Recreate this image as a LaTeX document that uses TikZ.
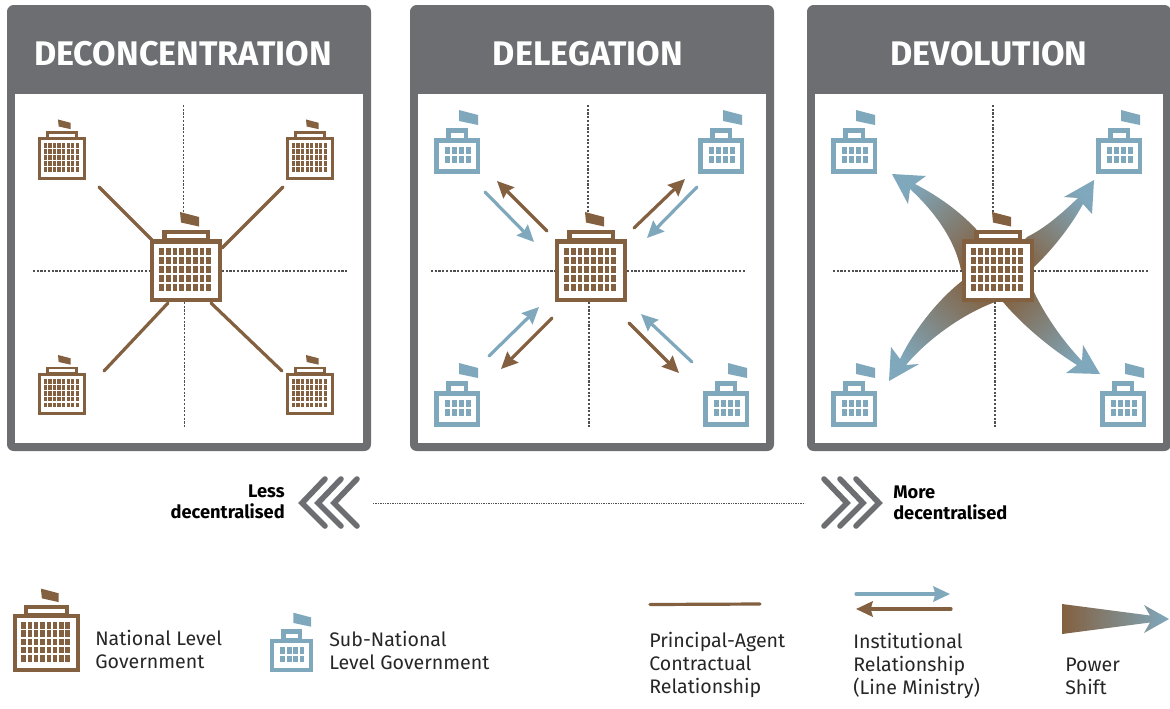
\documentclass[tikz,border=0pt]{standalone}
\usepackage{fontspec}
\setmainfont{Fira Sans}
\usetikzlibrary{arrows,arrows.meta,calc,positioning}
\definecolor{natbrown}{HTML}{83603F}
\definecolor{subblue}{HTML}{7FA8BD}
\definecolor{framegray}{HTML}{6D6E71}
\definecolor{dotgray}{HTML}{505052}
\tikzstyle{dotline} = [dotgray,line width=1.3pt,dash pattern=on 1.6pt off 1.2pt]
\tikzstyle{contract} = [natbrown,line width=2.4pt,line cap=round]
\tikzstyle{brownarrow} = [natbrown,line width=2.4pt,line cap=round,-{Stealth[length=12.5pt,width=11.5pt,inset=1.5pt]}]
\tikzstyle{bluearrow} = [subblue,line width=2.4pt,line cap=round,-{Stealth[length=12.5pt,width=11.5pt,inset=1.5pt]}]
\tikzstyle{chevron} = [framegray,line width=4.2pt,line cap=round,line join=miter]
\tikzstyle{titletext} = [text=white,font=\fontsize{25.6}{30}\selectfont\bfseries]
\tikzstyle{sidetext} = [inner sep=0pt,align=left,font=\fontsize{13.7}{15.8}\selectfont\bfseries]
\tikzstyle{legendtext} = [inner sep=0pt,align=left,anchor=north west,font=\fontsize{14.7}{17.3}\selectfont,text=black!85]
\tikzset{>=stealth,
  natbuilding/.pic={
    \fill[natbrown] (-6,-58.5) -- (13,-53.5) -- (13,-44) -- (-5,-48) -- cycle;
    \fill[natbrown] (-24,-41) rectangle (24,-31.5);
    \fill[white] (-19.5,-37) rectangle (20,-32.5);
    \fill[natbrown] (-36,-31.5) rectangle (36,31.5);
    \fill[white] (-32,-27) rectangle (32,27);
    \foreach \col in {0,...,7} \foreach \row in {0,...,4}
      \fill[natbrown] ({-27+6.75*\col},{-22.5+8.9*\row}) rectangle +(4.8,7);
  },
  subbuilding/.pic={
    \fill[subblue] (2,-46) -- (21,-41) -- (21,-31) -- (2,-35) -- cycle;
    \fill[subblue] (-11,-28) rectangle (11,-18);
    \fill[white] (-6,-23) rectangle (7,-18.5);
    \fill[subblue] (-23,-18) rectangle (23,18);
    \fill[white] (-18.5,-13) rectangle (18.5,13);
    \foreach \col in {0,...,3} \foreach \row in {0,1}
      \fill[subblue] ({-12+6.9*\col},{-9+9.2*\row}) rectangle +(5.1,7);
  }
}
\begin{document}
\begin{tikzpicture}[x=0.75pt,y=-0.75pt]
  \useasboundingbox (0,0) rectangle (1170,708);
  % panels
  \foreach \px/\tx/\ttl in {7/183/DECONCENTRATION,410/588/DELEGATION,807/989/DEVOLUTION}{
    \fill[framegray,rounded corners=5pt] (\px,5) rectangle ({\px+364},451);
    \fill[white] ({\px+7.5},94) rectangle ({\px+356},443);
    \node[titletext] (title\px) at (\tx,54) {\ttl};
  }
  % dotted axes
  \foreach \n/\ax/\ay/\bx/\by in {a/183.5/105/183.5/214,b/184.5/302/184.5/428,c/33/271/150/271,d/222/271/348/271,
      e/588/105/588/212,f/589/302/589/428,g/431/271/555/271,h/627/271/745/271,
      i/993/105/993/212,j/995/302/995/428,k/833/271/962/271,l/1034/271/1148/271}{
    \coordinate (axis\n s) at (\ax,\ay);
    \coordinate (axis\n e) at (\bx,\by);
    \draw[dotline] (axis\n s) -- (axis\n e);
  }
  % contract lines
  \foreach \n/\ax/\ay/\bx/\by in {tl/99/187/152/240,tr/222/248/283/187,bl/168/303/104/371,br/211/303/282/371}{
    \coordinate (line\n s) at (\ax,\ay);
    \coordinate (line\n e) at (\bx,\by);
    \draw[contract] (line\n s) -- (line\n e);
  }
  % institutional arrows
  \foreach \n/\ax/\ay/\bx/\by in {tl/485/192/534/242,tr/697/187/647/238,bl/489/356/539/307,br/692/362/641/314}{
    \coordinate (blue\n s) at (\ax,\ay);
    \coordinate (blue\n e) at (\bx,\by);
    \draw[bluearrow] (blue\n s) -- (blue\n e);
  }
  \foreach \n/\ax/\ay/\bx/\by in {tl/547/231/497/181,tr/634/228/685/179,bl/552/318/501/369,br/629/323/679/373}{
    \coordinate (brown\n s) at (\ax,\ay);
    \coordinate (brown\n e) at (\bx,\by);
    \draw[brownarrow] (brown\n s) -- (brown\n e);
  }
  % power shift arrows
  \shade[top color=natbrown,bottom color=subblue,middle color=natbrown!50!subblue,shading angle=225]
    (892,174) -- (926,176) -- (915,184) .. controls (940,197) and (960,212) .. (976,229) -- (998,270) -- (961,270)
    .. controls (955,240) and (935,212) .. (910,189) -- (908,204) -- cycle;
  \shade[top color=natbrown,bottom color=subblue,middle color=natbrown!50!subblue,shading angle=135]
    (1094,180) -- (1064,197) -- (1078,198) .. controls (1060,215) and (1045,228) .. (1027,237) -- (998,270) -- (1034,267)
    .. controls (1050,252) and (1070,228) .. (1083,204) -- (1092,214) -- cycle;
  \shade[top color=natbrown,bottom color=subblue,middle color=natbrown!50!subblue,shading angle=45]
    (1100,374) -- (1083,345) -- (1082,361) .. controls (1062,340) and (1045,315) .. (1034,292) -- (998,270) -- (1003,302)
    .. controls (1018,320) and (1045,345) .. (1077,365) -- (1066,373) -- cycle;
  \shade[top color=natbrown,bottom color=subblue,middle color=natbrown!50!subblue,shading angle=315]
    (889,381) -- (919,364) -- (906,365) .. controls (925,342) and (960,315) .. (995,302) -- (998,270) -- (962,281)
    .. controls (940,298) and (915,328) .. (900,359) -- (891,347) -- cycle;
  % buildings
  \foreach \cx in {186,591,998}
    \pic at (\cx,270.5) {natbuilding};
  \foreach \cx/\cy in {62/158.5,310/158.5,62/394,310/394}
    \pic[scale=.667] at (\cx,\cy) {natbuilding};
  \foreach \cx/\cy in {457/156,721/156,457/409,726/409,854/156,1119/156,854/409,1123/409}
    \pic at (\cx,\cy) {subbuilding};
  % scale of decentralisation
  \foreach \dx in {0,16,32}{
    \draw[chevron] ({325+\dx},479) -- ({302+\dx},503) -- ({325+\dx},526);
    \draw[chevron] ({824+\dx},479) -- ({847+\dx},503) -- ({824+\dx},526);
  }
  \coordinate (scales) at (373,503.5);
  \coordinate (scalee) at (805,503.5);
  \draw[dotgray,line width=1pt,dash pattern=on 1pt off .8pt] (scales) -- (scalee);
  \node[sidetext,align=right,anchor=east] (lesstext) at (285,502) {Less\\decentralised};
  \node[sidetext,anchor=west] (moretext) at (893,503) {More\\decentralised};
  % legend
  \pic[scale=.93] at (46.5,643) {natbuilding};
  \pic[scale=.93] at (291.5,655.5) {subbuilding};
  \node[legendtext] (natlabel) at (95,630) {National Level\\Government};
  \node[legendtext] (sublabel) at (329,631) {Sub-National\\Level Government};
  \coordinate (keylines) at (650,604.5);
  \coordinate (keylinee) at (760,604);
  \draw[contract] (keylines) -- (keylinee);
  \node[legendtext] (contractlabel) at (649,632) {Principal-Agent\\Contractual\\Relationship};
  \coordinate (keybluea) at (856,594);
  \coordinate (keyblueb) at (950,594);
  \coordinate (keybrowna) at (951,609);
  \coordinate (keybrownb) at (856,609);
  \draw[bluearrow] (keybluea) -- (keyblueb);
  \draw[brownarrow] (keybrowna) -- (keybrownb);
  \node[legendtext] (instlabel) at (853,633) {Institutional\\Relationship\\(Line Ministry)};
  \shade[left color=natbrown,right color=subblue]
    (1062,604) -- (1150,615.5) -- (1144,605) -- (1169,619) -- (1144,633) -- (1150,622.5) -- (1062,634) -- cycle;
  \node[legendtext] (powerlabel) at (1065,658) {Power\\Shift};
\end{tikzpicture}
\end{document}
